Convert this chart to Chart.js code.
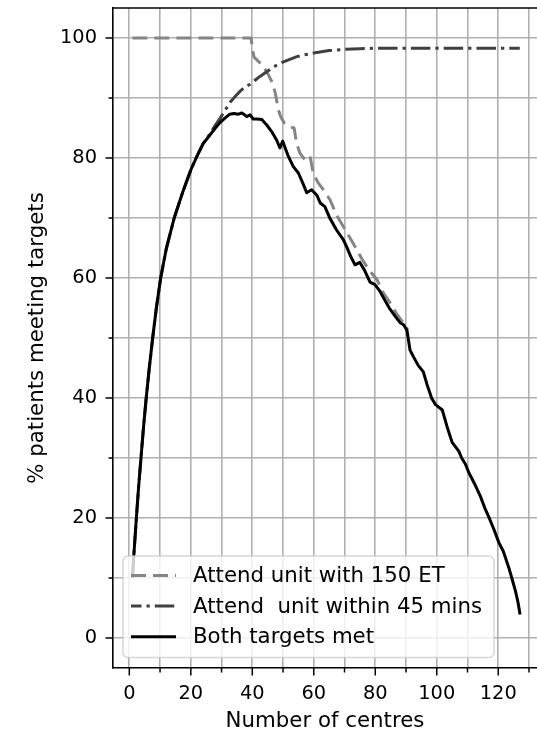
<!DOCTYPE html>
<html>
<head>
<meta charset="utf-8">
<script src="https://cdn.jsdelivr.net/npm/chart.js@4.4.1/dist/chart.umd.min.js"></script>
<style>
  html, body { margin: 0; padding: 0; background: #fff; }
</style>
</head>
<body>
<canvas id="grafico_centros" width="537" height="734"></canvas>
<script>
/* Curvas de % de pacientes que atingem as metas, por numero de centros */

const nomes_series = [
    'Attend unit with 150 ET',
    'Attend  unit within 45 mins',
    'Both targets met'
];

const titulo_x = 'Number of centres';
const titulo_y = '% patients meeting targets';

// marcas dos eixos (maiores com rotulo, menores so com grade)
const ticks_x_maiores = [0, 20, 40, 60, 80, 100, 120];
const ticks_x_menores = [10, 30, 50, 70, 90, 110, 130];
const ticks_y_maiores = [0, 20, 40, 60, 80, 100];
const ticks_y_menores = [10, 30, 50, 70, 90];

// Attend unit with 150 ET
const x_150et = [1, 39.6, 40.1, 40.6, 42, 43.6, 45.2, 46.3, 47.4, 48.5,
    49.3, 50.5, 52.3, 53.6, 54.4, 55.5, 57.1, 58.8, 59.8, 61.5,
    63.6, 65.3, 67.4, 69.6, 72.8, 75.6, 78, 80.6, 82.5, 84.9,
    87, 89, 90.6];
const y_150et = [100, 100, 98, 96.8, 96.1, 95.3, 93.9, 92.8, 91, 88,
    86.8, 85.8, 85.2, 85, 82.5, 80.8, 79.7, 80.3, 77.5, 75.8,
    74.4, 73, 70.5, 68.6, 65.8, 63.2, 61.3, 59.7, 57.6, 55.8,
    54, 52.6, 51.4];

// Attend unit within 45 mins
const x_45min = [1, 1.5, 2.3, 3, 3.8, 4.6, 5.5, 6.5, 7.6, 8.8,
    10.2, 12, 14.6, 17.5, 20, 21.9, 24, 26.2, 28, 29.5,
    31, 32.8, 34.5, 36, 37.5, 39.3, 41, 42.5, 44.8, 47,
    49.5, 52, 54.5, 57, 61, 65, 70, 75, 80, 90,
    127];
const y_45min = [10, 14, 20, 25, 30, 35, 40, 45, 50, 55,
    60, 64.8, 70, 74.5, 78, 80.2, 82.4, 84, 85.5, 86.6,
    87.8, 89.3, 90.3, 91.1, 91.8, 92.3, 93, 93.6, 94.4, 95.2,
    95.9, 96.4, 96.9, 97.2, 97.6, 97.9, 98.1, 98.2, 98.3, 98.3,
    98.3];

// Both targets met
const x_ambos = [1, 1.5, 2.3, 3, 3.8, 4.6, 5.5, 6.5, 7.6, 8.8,
    10.2, 12, 14.6, 17.5, 20, 21.9, 24, 26.2, 28, 29.5,
    31, 32.7, 34, 35.5, 36.6, 37.5, 38.2, 39.3, 40.3, 41.5,
    43.1, 44.7, 46.3, 47.9, 49, 49.9, 51.7, 53.3, 55, 56.6,
    57.7, 59.3, 61, 62.1, 63.6, 65.3, 67.4, 69.6, 70.7, 72,
    73.4, 75, 76.6, 78.3, 79.9, 81.5, 83, 84.8, 86.5, 88,
    89.2, 90.3, 91.3, 92.4, 94, 95.6, 96.8, 97.8, 98.3, 99.6,
    101.8, 103.3, 105, 107.2, 108.1, 109.3, 110.4, 112.2, 114.2, 115.6,
    116.8, 118.5, 120.2, 121.6, 122.4, 123.5, 124.4, 125.6, 126.4, 127.1];
const y_ambos = [10, 14, 20, 25, 30, 35, 40, 45, 50, 55,
    60, 64.8, 70, 74.5, 78, 80.2, 82.4, 83.8, 85, 85.9,
    86.6, 87.3, 87.4, 87.3, 87.5, 87.2, 86.9, 87.2, 86.5, 86.5,
    86.4, 85.5, 84.4, 83, 81.7, 82.8, 80.3, 78.6, 77.5, 75.6,
    74.2, 74.7, 73.8, 72.5, 71.9, 69.9, 68, 66.4, 65.2, 63.6,
    62.2, 62.6, 61.2, 59.3, 58.9, 57.8, 56.4, 54.8, 53.6, 52.6,
    52.2, 51.3, 48, 46.9, 45.4, 44.4, 42.3, 40.8, 40, 38.9,
    38, 35.3, 32.6, 31.1, 30, 29, 27.6, 25.8, 23.6, 21.7,
    20.3, 18.2, 15.9, 14.5, 13.3, 11.6, 10, 7.8, 6, 3.9];

const pontos = (xs, ys) => xs.map((x, i) => ({ x: x, y: ys[i] }));

const familia = "'DejaVu Sans', 'Liberation Sans', sans-serif";
const fonte_ticks = { family: familia, size: 19.4 };
const fonte_titulos = { family: familia, size: 21.3 };

const data_centros = {
    datasets: [{
        label: nomes_series[2],
        data: pontos(x_ambos, y_ambos),
        borderColor: '#000000',
        borderWidth: 3,
        order: 0
    },
    {
        label: nomes_series[1],
        data: pontos(x_45min, y_45min),
        borderColor: '#404040',
        borderWidth: 3,
        borderDash: [19.5, 5, 3.3, 5],
        legendaOffset: 9,
        order: 1
    },
    {
        label: nomes_series[0],
        data: pontos(x_150et, y_150et),
        borderColor: '#858585',
        borderWidth: 3,
        borderDash: [15, 7],
        legendaOffset: 0,
        order: 2
    }]
};

// moldura de cima, tracinhos dos eixos e legenda no canto de baixo
const plugin_moldura = {
    id: 'moldura',
    afterDraw(chart) {
        const { ctx, chartArea, scales } = chart;
        ctx.save();
        ctx.strokeStyle = '#000';
        ctx.lineWidth = 1.6;
        ctx.beginPath();
        ctx.moveTo(chartArea.left, chartArea.top);
        ctx.lineTo(chartArea.right, chartArea.top);
        ctx.stroke();

        ctx.lineWidth = 1.5;
        ticks_x_maiores.concat(ticks_x_menores).forEach(v => {
            const px = scales.x.getPixelForValue(v);
            const comp = ticks_x_maiores.includes(v) ? 7.5 : 4.5;
            ctx.beginPath();
            ctx.moveTo(px, chartArea.bottom);
            ctx.lineTo(px, chartArea.bottom + comp);
            ctx.stroke();
        });
        ticks_y_maiores.concat(ticks_y_menores).forEach(v => {
            const py = scales.y.getPixelForValue(v);
            const comp = ticks_y_maiores.includes(v) ? 7.5 : 4.5;
            ctx.beginPath();
            ctx.moveTo(chartArea.left, py);
            ctx.lineTo(chartArea.left - comp, py);
            ctx.stroke();
        });

        // legenda
        const esq = chartArea.left + 10;
        const larg = 371;
        const alt = 101.5;
        const topo = chartArea.bottom - 10.5 - alt;
        ctx.beginPath();
        ctx.roundRect(esq, topo, larg, alt, 5);
        ctx.fillStyle = 'rgba(255,255,255,0.8)';
        ctx.fill();
        ctx.strokeStyle = 'rgba(204,204,204,0.8)';
        ctx.lineWidth = 1.5;
        ctx.stroke();

        ctx.font = '21.3px ' + familia;
        ctx.textBaseline = 'middle';
        ctx.textAlign = 'left';
        const ordem = [2, 1, 0];
        ordem.forEach((idx, linha) => {
            const ds = chart.data.datasets[idx];
            const cy = topo + 19.5 + linha * 30.6;
            ctx.strokeStyle = ds.borderColor;
            ctx.lineWidth = ds.borderWidth;
            ctx.setLineDash(ds.borderDash || []);
            ctx.lineDashOffset = ds.legendaOffset || 0;
            ctx.beginPath();
            ctx.moveTo(esq + 8, cy);
            ctx.lineTo(esq + 53, cy);
            ctx.stroke();
            ctx.setLineDash([]);
            ctx.fillStyle = '#000';
            ctx.fillText(ds.label, esq + 70, cy + 1);
        });
        ctx.restore();
    }
};

const config_centros = {
    type: 'line',
    data: data_centros,
    options: {
        responsive: false,
        animation: false,
        layout: { padding: { top: 8, right: 0, bottom: 0, left: 0 } },
        elements: {
            point: { radius: 0 },
            line: { tension: 0, borderCapStyle: 'butt', borderJoinStyle: 'round' }
        },
        plugins: {
            legend: { display: false },
            tooltip: { enabled: false }
        },
        scales: {
            x: {
                type: 'linear',
                min: -5.3,
                max: 132.6,
                afterBuildTicks: (escala) => {
                    escala.ticks = ticks_x_maiores.concat(ticks_x_menores)
                        .sort((a, b) => a - b).map(v => ({ value: v }));
                },
                afterFit: (escala) => {
                    escala.height = 66;
                    escala.paddingLeft = 0;
                    escala.paddingRight = 0;
                },
                ticks: {
                    autoSkip: false,
                    maxRotation: 0,
                    padding: 14,
                    color: '#000',
                    font: fonte_ticks,
                    callback: (valor) => ticks_x_maiores.includes(valor) ? String(valor) : ''
                },
                grid: { color: '#b0b0b0', lineWidth: 1.6, drawTicks: false },
                border: { display: true, color: '#000', width: 1.6 },
                title: { display: true, text: titulo_x, color: '#000', font: fonte_titulos, padding: 0 }
            },
            y: {
                min: -5,
                max: 105,
                afterBuildTicks: (escala) => {
                    escala.ticks = ticks_y_maiores.concat(ticks_y_menores)
                        .sort((a, b) => a - b).map(v => ({ value: v }));
                },
                afterFit: (escala) => {
                    escala.width = 113;
                    escala.paddingTop = 0;
                    escala.paddingBottom = 0;
                },
                ticks: {
                    autoSkip: false,
                    padding: 16,
                    color: '#000',
                    font: fonte_ticks,
                    callback: (valor) => ticks_y_maiores.includes(valor) ? String(valor) : ''
                },
                grid: { color: '#b0b0b0', lineWidth: 1.6, drawTicks: false },
                border: { display: true, color: '#000', width: 1.6 },
                title: { display: true, text: titulo_y, color: '#000', font: fonte_titulos, padding: { top: 25, bottom: 0 } }
            }
        }
    },
    plugins: [plugin_moldura]
};

const grafico_centros = new Chart(
    document.getElementById('grafico_centros'),
    config_centros
);
</script>
</body>
</html>
